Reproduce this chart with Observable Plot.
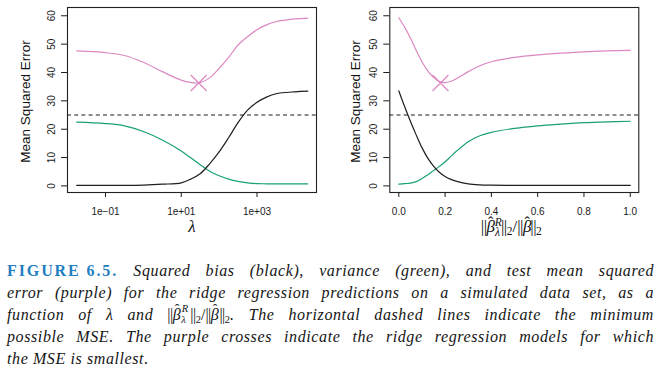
<!DOCTYPE html>
<html><head><meta charset="utf-8">
<script src="https://cdn.jsdelivr.net/npm/d3@7"></script>
<script src="https://cdn.jsdelivr.net/npm/@observablehq/plot@0.6"></script>
<style>
body{margin:0;background:#fff;}
#wrap{position:relative;width:662px;height:373px;overflow:hidden;background:#fff;}
#charts{position:absolute;left:0;top:0;display:flex;}
#caption{position:absolute;left:7px;top:260px;width:647px;font-family:"Liberation Serif","Times New Roman",serif;font-style:italic;font-size:16px;letter-spacing:0.6px;line-height:22px;color:#151515;}
#caption .ln{text-align:justify;text-align-last:justify;height:22px;white-space:normal;}
#caption .last{text-align:left;text-align-last:left;}
#caption .fig{display:inline-block;font-style:normal;font-weight:bold;color:#1f7fc0;letter-spacing:1.9px;}
#caption .up{font-style:normal;letter-spacing:0;}
#caption .bar{font-style:normal;letter-spacing:-0.5px;}
#caption .hat{position:relative;display:inline-block;}
#caption .hat .h{position:absolute;left:2px;top:-5px;font-style:normal;font-size:14px;}
#caption .ss{position:relative;display:inline-block;width:8px;height:10px;font-size:10.5px;letter-spacing:0;margin-right:1px;}
#caption .ss .r{position:absolute;left:0.5px;top:-7px;line-height:12px;}
#caption .ss .l{position:absolute;left:0;top:4px;line-height:12px;}
#caption .sb{font-size:10.5px;font-style:normal;position:relative;top:3px;letter-spacing:0;}
</style>
</head><body>
<div id="wrap"><div id="charts"></div>
<div id="caption">
<div class="ln"><span class="fig">FIGURE 6.5.</span> Squared bias (black), variance (green), and test mean squared</div>
<div class="ln">error (purple) for the ridge regression predictions on a simulated data set, as a</div>
<div class="ln">function of λ and <span class="bar">||</span><span class="hat">β<span class="h">ˆ</span></span><span class="ss"><span class="r">R</span><span class="l">λ</span></span><span class="bar">||</span><span class="sb">2</span><span class="up">/</span><span class="bar">||</span><span class="hat">β<span class="h">ˆ</span></span><span class="bar">||</span><span class="sb">2</span>. The horizontal dashed lines indicate the minimum</div>
<div class="ln">possible MSE. The purple crosses indicate the ridge regression models for which</div>
<div class="ln last">the MSE is smallest.</div>
</div>
</div>
<script>
// ---- data: left panel (as a function of lambda) ----
const lambdaVals = [0.0174, 0.1, 0.316, 1, 3.16, 10, 17.8, 31.6, 56.2, 100, 178, 316, 562, 1000, 1778, 3162, 10000, 21900];
const biasLambda = [0.2, 0.2, 0.2, 0.3, 0.6, 1.1, 2.4, 4.3, 7.8, 12.0, 17.0, 22.3, 26.7, 29.5, 31.3, 32.5, 33.2, 33.4];
const varLambda  = [22.5, 22.0, 21.2, 19.2, 16.2, 12.3, 9.9, 7.5, 5.2, 3.6, 2.4, 1.6, 1.1, 0.8, 0.75, 0.7, 0.7, 0.7];
const mseLambda  = [47.6, 47.0, 46.0, 43.6, 40.3, 37.3, 36.5, 36.4, 38.1, 41.4, 45.3, 49.7, 52.6, 55.1, 56.8, 57.9, 58.9, 59.2];
const minLambda = 29;
// ---- data: right panel (as a function of the norm ratio) ----
const ratioVals = [0, 0.025, 0.05, 0.075, 0.1, 0.125, 0.15, 0.175, 0.2, 0.225, 0.25, 0.3, 0.35, 0.4, 0.5, 0.6, 0.7, 0.8, 0.9, 1.0];
const biasRatio = [33.5, 28.0, 22.8, 18.0, 13.5, 9.8, 7.0, 4.8, 3.3, 2.3, 1.6, 0.7, 0.35, 0.25, 0.2, 0.2, 0.2, 0.2, 0.2, 0.2];
const varRatio  = [0.6, 0.8, 1.0, 1.5, 2.6, 3.9, 5.4, 6.9, 8.5, 10.4, 12.3, 15.6, 17.7, 18.9, 20.3, 21.2, 21.8, 22.3, 22.6, 22.8];
const mseRatio  = [59.3, 56.0, 52.2, 47.8, 43.8, 40.6, 38.3, 36.8, 36.4, 36.9, 37.9, 40.3, 42.4, 43.8, 45.3, 46.2, 46.8, 47.3, 47.6, 47.8];
const minRatio = 0.18;
const minMSE = 36.3;
const irreducible = 25;
// ---- axes ----
const yTicks = [0, 10, 20, 30, 40, 50, 60];
const xTicksLambda = [0.1, 10, 1000];
const xTickLabelsLambda = ["1e\u221201", "1e+01", "1e+03"];
const xTicksRatio = [0, 0.2, 0.4, 0.6, 0.8, 1.0];
const yLabel = "Mean Squared Error";

const colBias = "#1e1e1e", colVar = "#19a078", colMSE = "#dc88c0";

function series(xs, ys) { return xs.map((x, i) => ({x, y: ys[i]})); }

function panel({width, marginLeft, marginRight, xScale, xs, bias, vari, mse, minX, xAxis, xLabelMarks, yTitleDx}) {
  return Plot.plot({
    width, height: 250,
    marginLeft, marginRight, marginTop: 7, marginBottom: 58,
    x: xScale,
    y: {domain: [-2.32, 62.92]},
    style: {fontFamily: "'Liberation Sans', Arial, sans-serif", fontSize: "10px", color: "#1a1a1a", background: "#fff"},
    marks: [
      Plot.frame({stroke: "#222", strokeWidth: 1.1}),
      Plot.axisY({ticks: yTicks, tickSize: 6, tickRotate: -90, tickPadding: 7, label: null}),
      xAxis,
      Plot.ruleY([irreducible], {stroke: "#1a1a1a", strokeWidth: 1, strokeDasharray: "4,3.2"}),
      Plot.line(series(xs, mse), {x: "x", y: "y", stroke: colMSE, strokeWidth: 1.2, curve: "catmull-rom"}),
      Plot.line(series(xs, vari), {x: "x", y: "y", stroke: colVar, strokeWidth: 1.2, curve: "catmull-rom"}),
      Plot.line(series(xs, bias), {x: "x", y: "y", stroke: colBias, strokeWidth: 1.2, curve: "catmull-rom"}),
      Plot.dot([{x: minX, y: minMSE}], {x: "x", y: "y", symbol: "times", r: 7.3, stroke: colMSE, strokeWidth: 1.2}),
      Plot.text([yLabel], {frameAnchor: "left", textAnchor: "middle", dx: yTitleDx, dy: 1.5, rotate: -90, fontSize: 13.5, fill: "#111"}),
      ...xLabelMarks
    ]
  });
}

const left = panel({
  width: 330, marginLeft: 67, marginRight: 14,
  xScale: {type: "log", domain: [Math.pow(10, -2.003), Math.pow(10, 4.571)]},
  xs: lambdaVals, bias: biasLambda, vari: varLambda, mse: mseLambda, minX: minLambda,
  xAxis: Plot.axisX({ticks: xTicksLambda, tickFormat: d => xTickLabelsLambda[xTicksLambda.indexOf(d)], tickSize: 5, tickPadding: 10, label: null}),
  xLabelMarks: [Plot.text(["λ"], {frameAnchor: "bottom", dy: 39.5, fontSize: 17, fontStyle: "italic", fontFamily: "'Liberation Serif', serif", fill: "#111"})],
  yTitleDx: -42
});

const right = panel({
  width: 332, marginLeft: 59.3, marginRight: 23.7,
  xScale: {type: "linear", domain: [-0.039, 1.037]},
  xs: ratioVals, bias: biasRatio, vari: varRatio, mse: mseRatio, minX: minRatio,
  xAxis: Plot.axisX({ticks: xTicksRatio, tickFormat: d => d.toFixed(1), tickSize: 5, tickPadding: 10, label: null}),
  xLabelMarks: [Plot.text(["||β||2/||β||2"], {frameAnchor: "bottom", dy: 39, dx: -3, fontSize: 17, fontFamily: "'Liberation Serif', serif", fill: "#111"})],
  yTitleDx: -34.3
});

document.getElementById("charts").append(left, right);

// typeset the norm-ratio axis title with hats and sub/superscripts
const NS = "http://www.w3.org/2000/svg";
for (const t of right.querySelectorAll("text")) {
  if (t.textContent.startsWith("||")) {
    t.textContent = "";
    const parts = [
      ["||", {"letter-spacing": "-0.5"}],
      ["β", {"font-style": "italic"}],
      ["ˆ", {dx: "-7", dy: "-4", "font-size": "16"}],
      ["R", {"font-style": "italic", "font-size": "11.5", dx: "1.5", dy: "-2"}],
      ["λ", {"font-style": "italic", "font-size": "11.5", dx: "-7", dy: "10"}],
      ["||", {dy: "-4", dx: "1", "letter-spacing": "-0.5"}],
      ["2", {"font-size": "11.5", dy: "3"}],
      ["/", {dy: "-3"}],
      ["||", {"letter-spacing": "-0.5"}],
      ["β", {"font-style": "italic"}],
      ["ˆ", {dx: "-7", dy: "-4", "font-size": "16"}],
      ["||", {dy: "4", dx: "0.5", "letter-spacing": "-0.5"}],
      ["2", {"font-size": "11.5", dy: "3"}]
    ];
    for (const [s, attrs] of parts) {
      const ts = document.createElementNS(NS, "tspan");
      for (const k in attrs) ts.setAttribute(k, attrs[k]);
      ts.textContent = s;
      t.appendChild(ts);
    }
  }
}
</script>
</body></html>
